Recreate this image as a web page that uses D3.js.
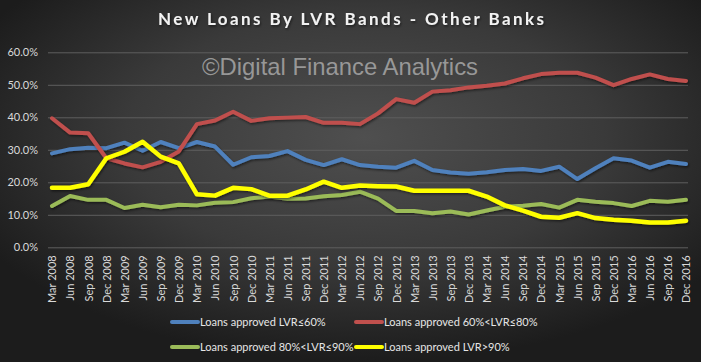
<!DOCTYPE html>
<html>
<head>
<meta charset="utf-8">
<script src="https://cdn.jsdelivr.net/npm/d3@7/dist/d3.min.js"></script>
<style>
  html, body { margin: 0; padding: 0; background: #222; }
  svg { display: block; }
</style>
</head>
<body>
<script>
const quarters = ["Mar 2008","Jun 2008","Sep 2008","Dec 2008","Mar 2009","Jun 2009","Sep 2009","Dec 2009",
  "Mar 2010","Jun 2010","Sep 2010","Dec 2010","Mar 2011","Jun 2011","Sep 2011","Dec 2011",
  "Mar 2012","Jun 2012","Sep 2012","Dec 2012","Mar 2013","Jun 2013","Sep 2013","Dec 2013",
  "Mar 2014","Jun 2014","Sep 2014","Dec 2014","Mar 2015","Jun 2015","Sep 2015","Dec 2015",
  "Mar 2016","Jun 2016","Sep 2016","Dec 2016"];

const lvrUpTo60 = [28.9,30.2,30.6,30.5,32.2,29.7,32.4,30.5,32.4,31.0,25.4,27.7,28.1,29.6,26.9,25.3,27.1,25.3,24.8,24.5,26.6,23.8,23.0,22.6,23.1,23.8,24.1,23.5,24.8,21.0,24.3,27.4,26.7,24.5,26.3,25.6];
const lvr60to80 = [39.7,35.3,35.1,27.4,25.8,24.6,26.3,29.5,37.9,39.0,41.7,38.9,39.7,39.9,40.1,38.3,38.3,37.9,41.2,45.6,44.5,47.9,48.3,49.2,49.7,50.4,52.0,53.3,53.7,53.7,52.2,49.9,51.8,53.2,51.8,51.2];
const lvr80to90 = [12.7,15.8,14.6,14.6,12.1,13.1,12.3,13.1,12.9,13.7,13.9,15.1,15.6,14.9,15.0,15.7,16.1,17.1,15.0,11.2,11.2,10.5,11.0,10.1,11.3,12.5,12.8,13.3,12.2,14.6,14.0,13.6,12.7,14.3,14.0,14.6];
const lvrOver90 = [18.3,18.3,19.4,27.4,29.4,32.5,27.9,25.8,16.3,15.9,18.3,17.9,15.9,15.9,17.8,20.2,18.3,19.0,18.8,18.7,17.4,17.4,17.4,17.4,15.6,12.9,11.3,9.4,9.1,10.5,9.0,8.5,8.2,7.6,7.6,8.2];

const yTicks = [0, 10, 20, 30, 40, 50, 60];
const seriesNames = ["Loans approved LVR\u226460%", "Loans approved 60%<LVR\u226480%",
                     "Loans approved 80%<LVR\u226490%", "Loans approved LVR>90%"];
const seriesColors = ["#4f81bd", "#c0504d", "#9bbb59", "#ffff00"];
const seriesWidths = [4, 4, 4, 4.5];
const titleText = "New Loans By LVR Bands - Other Banks";
const watermark = "\u00a9Digital Finance Analytics";

const W = 701, H = 362;
const svg = d3.select("body").append("svg").attr("width", W).attr("height", H);

const defs = svg.append("defs");
const grad = defs.append("radialGradient").attr("id", "bg")
  .attr("cx", "0.52").attr("cy", "0.38").attr("r", "0.62");
grad.append("stop").attr("offset", "0").attr("stop-color", "#4f4f4f");
grad.append("stop").attr("offset", "0.55").attr("stop-color", "#3a3a3a");
grad.append("stop").attr("offset", "1").attr("stop-color", "#1c1c1c");
const sh = defs.append("filter").attr("id", "shadow").attr("x", "-10%").attr("y", "-10%").attr("width", "120%").attr("height", "130%");
sh.append("feDropShadow").attr("dx", 1).attr("dy", 1.5).attr("stdDeviation", 1).attr("flood-color", "#000").attr("flood-opacity", 0.5);

svg.append("rect").attr("width", W).attr("height", H).attr("fill", "url(#bg)");

const x = d3.scalePoint().domain(quarters).range([52, 686]);
const y = d3.scaleLinear().domain([0, 60]).range([247.3, 52.3]);

// title
svg.append("text").attr("x", 351).attr("y", 25)
  .attr("text-anchor", "middle")
  .attr("font-family", "Lato, 'Open Sans', sans-serif")
  .attr("font-weight", "bold").attr("font-size", 17)
  .attr("fill", "#f2f2f2")
  .attr("textLength", 386).attr("lengthAdjust", "spacing")
  .attr("filter", "url(#shadow)")
  .text(titleText);

// y axis + gridlines
const yAxis = d3.axisLeft(y).tickValues(yTicks).tickFormat(d => d.toFixed(1) + "%")
  .tickSizeInner(-640).tickSizeOuter(0).tickPadding(10);
const gy = svg.append("g").attr("transform", "translate(48,0)").call(yAxis);
gy.select(".domain").remove();
gy.selectAll(".tick line").attr("stroke", "#5e5e5e").attr("stroke-width", 1);
gy.selectAll(".tick text").attr("fill", "#d9d9d9")
  .attr("font-family", "Lato, 'Open Sans', sans-serif").attr("font-size", 11);

// watermark
svg.append("text").attr("x", 202).attr("y", 75)
  .attr("font-family", "'Liberation Sans', Arial, sans-serif")
  .attr("font-size", 24).attr("fill", "#a8a8a8").attr("fill-opacity", 0.85)
  .attr("textLength", 276).attr("lengthAdjust", "spacingAndGlyphs")
  .text(watermark);

// x axis
const xAxis = d3.axisBottom(x).tickSize(0).tickPadding(0);
const gx = svg.append("g").attr("transform", "translate(0,247.3)").call(xAxis);
gx.select(".domain").remove();
gx.selectAll(".tick text")
  .attr("fill", "#d9d9d9")
  .attr("font-family", "Lato, 'Open Sans', sans-serif").attr("font-size", 11)
  .attr("text-anchor", "end")
  .attr("transform", "rotate(-90)")
  .attr("x", -8).attr("y", 0).attr("dy", "0.35em");

// lines
const allSeries = [lvrUpTo60, lvr60to80, lvr80to90, lvrOver90];
const line = d3.line().x((d, i) => x(quarters[i])).y(d => y(d));
allSeries.forEach((s, k) => {
  svg.append("path").datum(s)
    .attr("d", line)
    .attr("fill", "none")
    .attr("stroke", seriesColors[k])
    .attr("stroke-width", seriesWidths[k])
    .attr("stroke-linejoin", "round")
    .attr("stroke-linecap", "round")
    .attr("filter", "url(#shadow)");
});

// legend
const legendPos = [[172, 322], [356, 322], [172, 347], [356, 347]];
seriesNames.forEach((name, k) => {
  const [lx, ly] = legendPos[k];
  svg.append("line").attr("x1", lx).attr("x2", lx + 26).attr("y1", ly).attr("y2", ly)
    .attr("stroke", seriesColors[k]).attr("stroke-width", 4).attr("stroke-linecap", "round");
  svg.append("text").attr("x", lx + 28).attr("y", ly).attr("dy", "0.35em")
    .attr("font-family", "Lato, 'Open Sans', sans-serif").attr("font-size", 11)
    .attr("fill", "#e6e6e6").text(name);
});
</script>
</body>
</html>
